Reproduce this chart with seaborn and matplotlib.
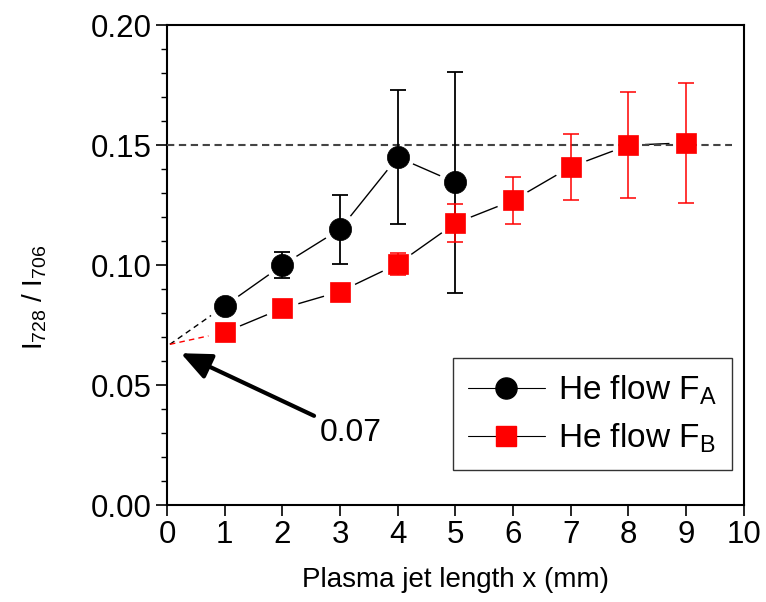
import numpy as np
import pandas as pd
import matplotlib
matplotlib.use("Agg")
import matplotlib.pyplot as plt
from matplotlib.lines import Line2D
from matplotlib.ticker import MultipleLocator
import seaborn as sns

# Line-intensity ratio along the plasma jet for two helium flows
x_a = [1, 2, 3, 4, 5]
ratio_a = [0.083, 0.100, 0.115, 0.145, 0.1345]
err_a = [0.0, 0.0055, 0.0143, 0.028, 0.046]

x_b = [1, 2, 3, 4, 5, 6, 7, 8, 9]
ratio_b = [0.072, 0.082, 0.089, 0.1005, 0.1175, 0.127, 0.141, 0.150, 0.151]
err_b = [0.0, 0.0, 0.0, 0.0045, 0.008, 0.0098, 0.0137, 0.022, 0.025]

saturation = 0.15          # plateau level
intercept = 0.067          # extrapolated ratio at x = 0
intercept_x = 0.05
intercept_label = "0.07"
labels = ["He flow F$_\\mathrm{A}$", "He flow F$_\\mathrm{B}$"]

df = pd.concat([
    pd.DataFrame({"x": x_a, "ratio": ratio_a, "err": err_a, "flow": "A"}),
    pd.DataFrame({"x": x_b, "ratio": ratio_b, "err": err_b, "flow": "B"}),
], ignore_index=True)

sns.set_theme(style="white")
plt.rcParams["font.family"] = ["Liberation Sans", "DejaVu Sans"]
plt.rcParams["mathtext.fontset"] = "custom"
plt.rcParams["mathtext.rm"] = "Liberation Sans"
plt.rcParams["mathtext.it"] = "Liberation Sans:italic"
for key in ("text.color", "axes.labelcolor", "xtick.color", "ytick.color"):
    plt.rcParams[key] = "black"

fig = plt.figure(figsize=(7.66, 6.02), dpi=100)
ax = fig.add_axes([0.218, 0.161, 0.753, 0.797])

colors = {"A": "black", "B": "red"}
markers = {"A": "o", "B": "s"}
msize = {"A": 16, "B": 14.5}

# thin connecting lines (both drawn in black)
sns.lineplot(data=df, x="x", y="ratio", units="flow", estimator=None,
             color="black", lw=1.0, ax=ax, zorder=2, legend=False)

# extrapolation towards x = 0
for key, xs, ys in (("A", x_a, ratio_a), ("B", x_b, ratio_b)):
    ax.plot([intercept_x, xs[0]], [intercept, ys[0]], ls=(0, (4, 3)),
            color=colors[key], lw=1.0, zorder=2)

# white halos leave a small gap between lines and symbols
ax.scatter(df["x"], df["ratio"], s=(24) ** 2, color="white",
           edgecolor="none", zorder=3)

# plateau reference line
ax.plot([0, 9.8], [saturation, saturation], ls=(0, (3.5, 2.2)),
        color="#444444", lw=1.5, zorder=3.5)

# error bars
for key, sub in df.groupby("flow"):
    sub = sub[sub["err"] > 0]
    ax.errorbar(sub["x"], sub["ratio"], yerr=sub["err"], fmt="none",
                ecolor=colors[key], elinewidth=1.3 if key == "A" else 1.1,
                capsize=6, capthick=1.3 if key == "A" else 1.1, zorder=4)

# symbols
for key, sub in df.groupby("flow"):
    ax.plot(sub["x"], sub["ratio"], ls="none", marker=markers[key],
            ms=msize[key], mfc=colors[key], mec=colors[key], mew=0.5, zorder=5)

# annotation of the extrapolated value
ax.annotate(intercept_label, xy=(0.24, 0.0633), xytext=(2.65, 0.030),
            fontsize=23, va="center", ha="left",
            arrowprops=dict(arrowstyle="-|>,head_length=0.8,head_width=0.35",
                            color="black", lw=3, shrinkA=2, shrinkB=0))

ax.set_xlim(0, 10)
ax.set_ylim(0, 0.20)
ax.xaxis.set_major_locator(MultipleLocator(1))
ax.yaxis.set_major_locator(MultipleLocator(0.05))
ax.yaxis.set_minor_locator(MultipleLocator(0.01))
ax.yaxis.set_major_formatter(matplotlib.ticker.FormatStrFormatter("%.2f"))
ax.tick_params(axis="both", which="major", direction="out", length=8,
               width=1.2, color="black", labelsize=22.5, pad=3,
               bottom=True, left=True)
ax.tick_params(axis="y", which="minor", direction="out", length=4,
               width=1.0, color="black", left=True)
for sp in ax.spines.values():
    sp.set_color("black")
    sp.set_linewidth(1.5)

ax.set_xlabel("Plasma jet length x (mm)", fontsize=20, labelpad=12)
ax.set_ylabel("I$_{728}$ / I$_{706}$", fontsize=20)
ax.yaxis.set_label_coords(-0.205, 0.433)

handles = [Line2D([], [], color="black", lw=0.8, marker=markers[k], ms=msize[k] * 0.95,
                  mfc=colors[k], mec=colors[k]) for k in ("A", "B")]
leg = ax.legend(handles, labels, loc="lower right", bbox_to_anchor=(0.979, 0.073),
                fontsize=24, frameon=True, fancybox=False, handlelength=2.3,
                handletextpad=0.4, borderpad=0.45, labelspacing=0.45,
                borderaxespad=0)
leg.get_frame().set_edgecolor("black")
leg.get_frame().set_linewidth(1.0)

fig.savefig("out.png", dpi=100, facecolor="white")
